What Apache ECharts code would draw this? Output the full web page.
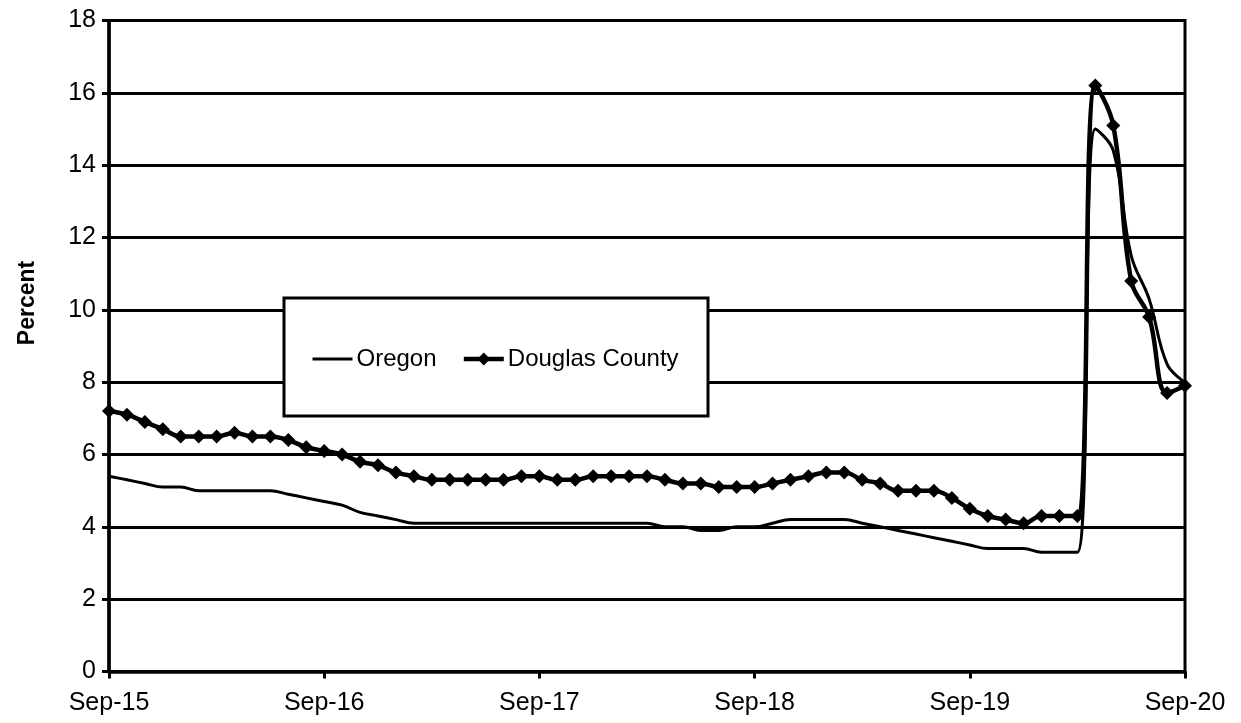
<!DOCTYPE html>
<html>
<head>
<meta charset="utf-8">
<script src="https://cdn.jsdelivr.net/npm/echarts@6/dist/echarts.min.js"></script>
<style>
  html, body { margin: 0; padding: 0; background: #fff; }
  #chart { width: 1241px; height: 723px; }
</style>
</head>
<body>
<div id="chart"></div>
<script>
var months = [
  'Sep-15','Oct-15','Nov-15','Dec-15','Jan-16','Feb-16','Mar-16','Apr-16','May-16','Jun-16','Jul-16','Aug-16',
  'Sep-16','Oct-16','Nov-16','Dec-16','Jan-17','Feb-17','Mar-17','Apr-17','May-17','Jun-17','Jul-17','Aug-17',
  'Sep-17','Oct-17','Nov-17','Dec-17','Jan-18','Feb-18','Mar-18','Apr-18','May-18','Jun-18','Jul-18','Aug-18',
  'Sep-18','Oct-18','Nov-18','Dec-18','Jan-19','Feb-19','Mar-19','Apr-19','May-19','Jun-19','Jul-19','Aug-19',
  'Sep-19','Oct-19','Nov-19','Dec-19','Jan-20','Feb-20','Mar-20','Apr-20','May-20','Jun-20','Jul-20','Aug-20',
  'Sep-20'
];

var oregon = [
  5.4,5.3,5.2,5.1,5.1,5.0,5.0,5.0,5.0,5.0,4.9,4.8,
  4.7,4.6,4.4,4.3,4.2,4.1,4.1,4.1,4.1,4.1,4.1,4.1,
  4.1,4.1,4.1,4.1,4.1,4.1,4.1,4.0,4.0,3.9,3.9,4.0,
  4.0,4.1,4.2,4.2,4.2,4.2,4.1,4.0,3.9,3.8,3.7,3.6,
  3.5,3.4,3.4,3.4,3.3,3.3,3.3,15.0,14.4,11.5,10.3,8.5,
  8.0
];

var douglas = [
  7.2,7.1,6.9,6.7,6.5,6.5,6.5,6.6,6.5,6.5,6.4,6.2,
  6.1,6.0,5.8,5.7,5.5,5.4,5.3,5.3,5.3,5.3,5.3,5.4,
  5.4,5.3,5.3,5.4,5.4,5.4,5.4,5.3,5.2,5.2,5.1,5.1,
  5.1,5.2,5.3,5.4,5.5,5.5,5.3,5.2,5.0,5.0,5.0,4.8,
  4.5,4.3,4.2,4.1,4.3,4.3,4.3,16.2,15.1,10.8,9.8,7.7,
  7.9
];

var seriesNames = ['Oregon', 'Douglas County'];
var yTitle = 'Percent';

var FONT = 'Liberation Sans, Arial, sans-serif';
var chart = echarts.init(document.getElementById('chart'), null, { renderer: 'canvas' });

chart.setOption({
  animation: false,
  backgroundColor: '#fff',
  grid: {
    left: 109, right: 56, top: 20.5, bottom: 51.5,
    show: true, borderColor: '#000', borderWidth: 3, backgroundColor: 'transparent'
  },
  xAxis: {
    type: 'category',
    data: months,
    boundaryGap: false,
    axisLine: { show: true, lineStyle: { color: '#000', width: 3.5 } },
    axisTick: {
      show: true, length: 7, inside: false,
      interval: function (i) { return i % 12 === 0; },
      lineStyle: { color: '#000', width: 3 }
    },
    axisLabel: {
      interval: function (i) { return i % 12 === 0; },
      color: '#000', fontFamily: FONT, fontSize: 25, margin: 19
    },
    splitLine: { show: false }
  },
  yAxis: {
    type: 'value',
    min: 0, max: 18, interval: 2,
    axisLine: { show: true, lineStyle: { color: '#000', width: 3.5 } },
    axisTick: { show: true, length: 7, lineStyle: { color: '#000', width: 3 } },
    axisLabel: { color: '#000', fontFamily: FONT, fontSize: 25, margin: 13 },
    splitLine: { show: true, lineStyle: { color: '#000', width: 3 } }
  },
  legend: {
    data: [
      {
        name: seriesNames[0],
        itemStyle: { color: 'rgba(0,0,0,0)', borderColor: 'rgba(0,0,0,0)', borderWidth: 0 },
        lineStyle: { width: 3, color: '#000' }
      },
      {
        name: seriesNames[1],
        lineStyle: { width: 4.5, color: '#000' }
      }
    ],
    left: 311, top: 347,
    padding: 0,
    itemWidth: 40, itemHeight: 16, itemGap: 25,
    z: 20,
    textStyle: { color: '#000', fontFamily: FONT, fontSize: 24, padding: [0, 0, 0, -1] }
  },
  graphic: [
    {
      type: 'rect', z: 10,
      shape: { x: 284, y: 298, width: 424, height: 118 },
      style: { fill: '#fff', stroke: '#000', lineWidth: 3 }
    },
    {
      type: 'text', z: 10,
      x: 28, y: 303, rotation: Math.PI / 2,
      style: {
        text: yTitle, font: 'bold 23px ' + FONT, fill: '#000',
        textAlign: 'center', textVerticalAlign: 'middle'
      }
    }
  ],
  series: [
    {
      name: seriesNames[0], type: 'line', data: oregon,
      smooth: 0.4, showSymbol: false, symbol: 'none',
      lineStyle: { color: '#000', width: 3 },
      itemStyle: { color: '#000' },
      z: 3
    },
    {
      name: seriesNames[1], type: 'line', data: douglas,
      smooth: 0.4, symbol: 'diamond', symbolSize: 14, showSymbol: true, showAllSymbol: true,
      lineStyle: { color: '#000', width: 4.5 },
      itemStyle: { color: '#000' },
      z: 4
    }
  ]
});
</script>
</body>
</html>
